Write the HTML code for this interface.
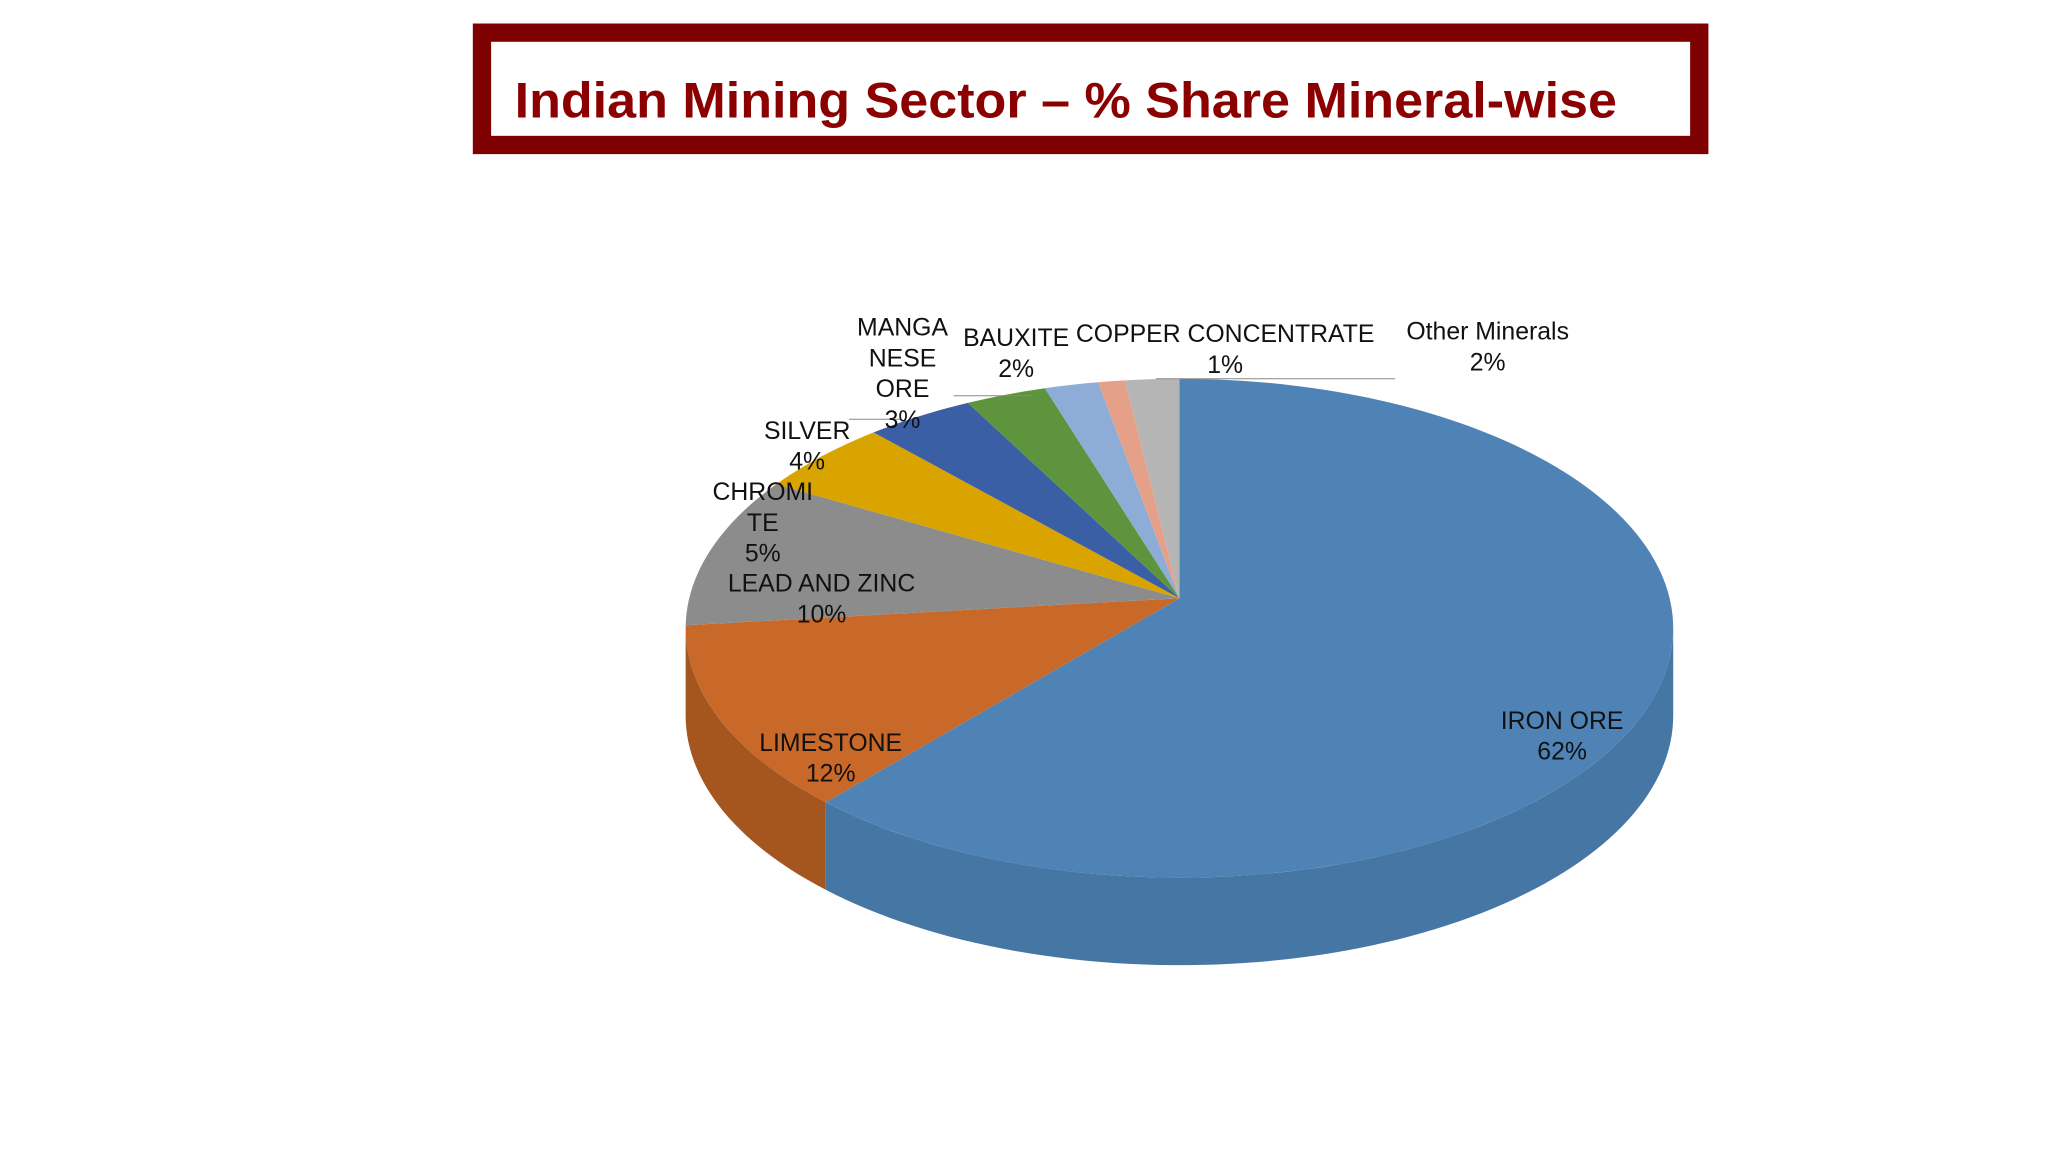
<!DOCTYPE html>
<html><head><meta charset="utf-8">
<style>
html,body{margin:0;padding:0;background:#fff;width:2048px;height:1152px;overflow:hidden}
svg{display:block}
text{font-family:"Liberation Sans",sans-serif}
</style></head>
<body>
<svg id="chart" width="2048" height="1152" viewBox="0 0 1568 882" xmlns="http://www.w3.org/2000/svg">
  <rect x="369" y="25" width="932" height="86" fill="#fff" stroke="#7F0000" stroke-width="14"/>
  <text x="394" y="90" font-size="38" font-weight="bold" fill="#8B0000" textLength="844" lengthAdjust="spacingAndGlyphs">Indian Mining Sector – % Share Mineral-wise</text>
  <g id="sides"></g>
  <g id="tops"></g>
  <g stroke="#888" stroke-width="0.8" fill="none">
    <line x1="543" y1="423" x2="557" y2="437"/>
    <line x1="650" y1="321" x2="690" y2="321"/>
    <line x1="730" y1="303" x2="790" y2="303"/>
    <line x1="885" y1="290" x2="1068" y2="290"/>
  </g>
  <g id="labels" font-size="19" fill="#111" text-anchor="middle"></g>
</svg>
<script>
const categories = ["IRON ORE","LIMESTONE","LEAD AND ZINC","CHROMITE","SILVER","MANGANESE ORE","BAUXITE","COPPER CONCENTRATE","Other Minerals"];
const values = [62,12,10,5,4,3,2,1,2];
const valueLabels = ["62%","12%","10%","5%","4%","3%","2%","1%","2%"];
const labelLines = [["IRON ORE"],["LIMESTONE"],["LEAD AND ZINC"],["CHROMI","TE"],["SILVER"],["MANGA","NESE","ORE"],["BAUXITE"],["COPPER CONCENTRATE"],["Other Minerals"]];
const topColors = ["#4F83B5","#C8692A","#8C8C8C","#D9A400","#3A5FA5","#5E943E","#8EADD6","#E5A08A","#B5B5B5"];
const sideColors = ["#4676A3","#A5561F","#727272","#B08500","#2F4E88","#4C7A32","#7590B3","#BE8370","#949494"];
const labelPos = [[1196,558],[636,575],[629,453],[584,383],[618,336],[691,257],[778,265],[938,262],[1139,260]];

const x0=903, y0=458, RX=375.3, SY=188.2, K=0.1204, depth=67;
const NS="http://www.w3.org/2000/svg";
const total = values.reduce((a,b)=>a+b,0);
function pt(deg){const r=deg*Math.PI/180;const w=1-K*Math.sin(r);return [x0+RX*Math.cos(r)/w, y0+SY*Math.sin(r)/w];}
function arcPts(a,b,dy){const n=Math.max(2,Math.ceil((b-a)/1.5));const out=[];for(let j=0;j<=n;j++){const p=pt(a+(b-a)*j/n);out.push(p[0].toFixed(2)+','+(p[1]+dy).toFixed(2));}return out;}
const visA=Math.asin(K)*180/Math.PI, visB=180-visA;
const sides=document.getElementById('sides'), tops=document.getElementById('tops'), labels=document.getElementById('labels');
let start=-90;
values.forEach((v,i)=>{
  const sweep=v/total*360, end=start+sweep;
  [[start,end],[start-360,end-360]].forEach(([s,e])=>{
    const a=Math.max(s,visA), b=Math.min(e,visB);
    if(b>a){
      const top=arcPts(a,b,0), bot=arcPts(a,b,depth).reverse();
      const poly=document.createElementNS(NS,'polygon');
      poly.setAttribute('points',top.concat(bot).join(' '));
      poly.setAttribute('fill',sideColors[i]);
      
      
      sides.appendChild(poly);
    }
  });
  const poly=document.createElementNS(NS,'polygon');
  poly.setAttribute('points',[x0+','+y0].concat(arcPts(start,end,0)).join(' '));
  poly.setAttribute('fill',topColors[i]);
  
  
  tops.appendChild(poly);
  const lines=labelLines[i].concat([valueLabels[i]]);
  const [lx,ly]=labelPos[i];
  const t=document.createElementNS(NS,'text');
  t.setAttribute('x',lx);t.setAttribute('y',ly);
  
  
  lines.forEach((ln,k)=>{const ts=document.createElementNS(NS,'tspan');ts.setAttribute('x',lx);ts.setAttribute('dy',k===0?0:23.5);ts.textContent=ln;t.appendChild(ts);});
  labels.appendChild(t);
  start=end;
});
</script>
</body></html>
